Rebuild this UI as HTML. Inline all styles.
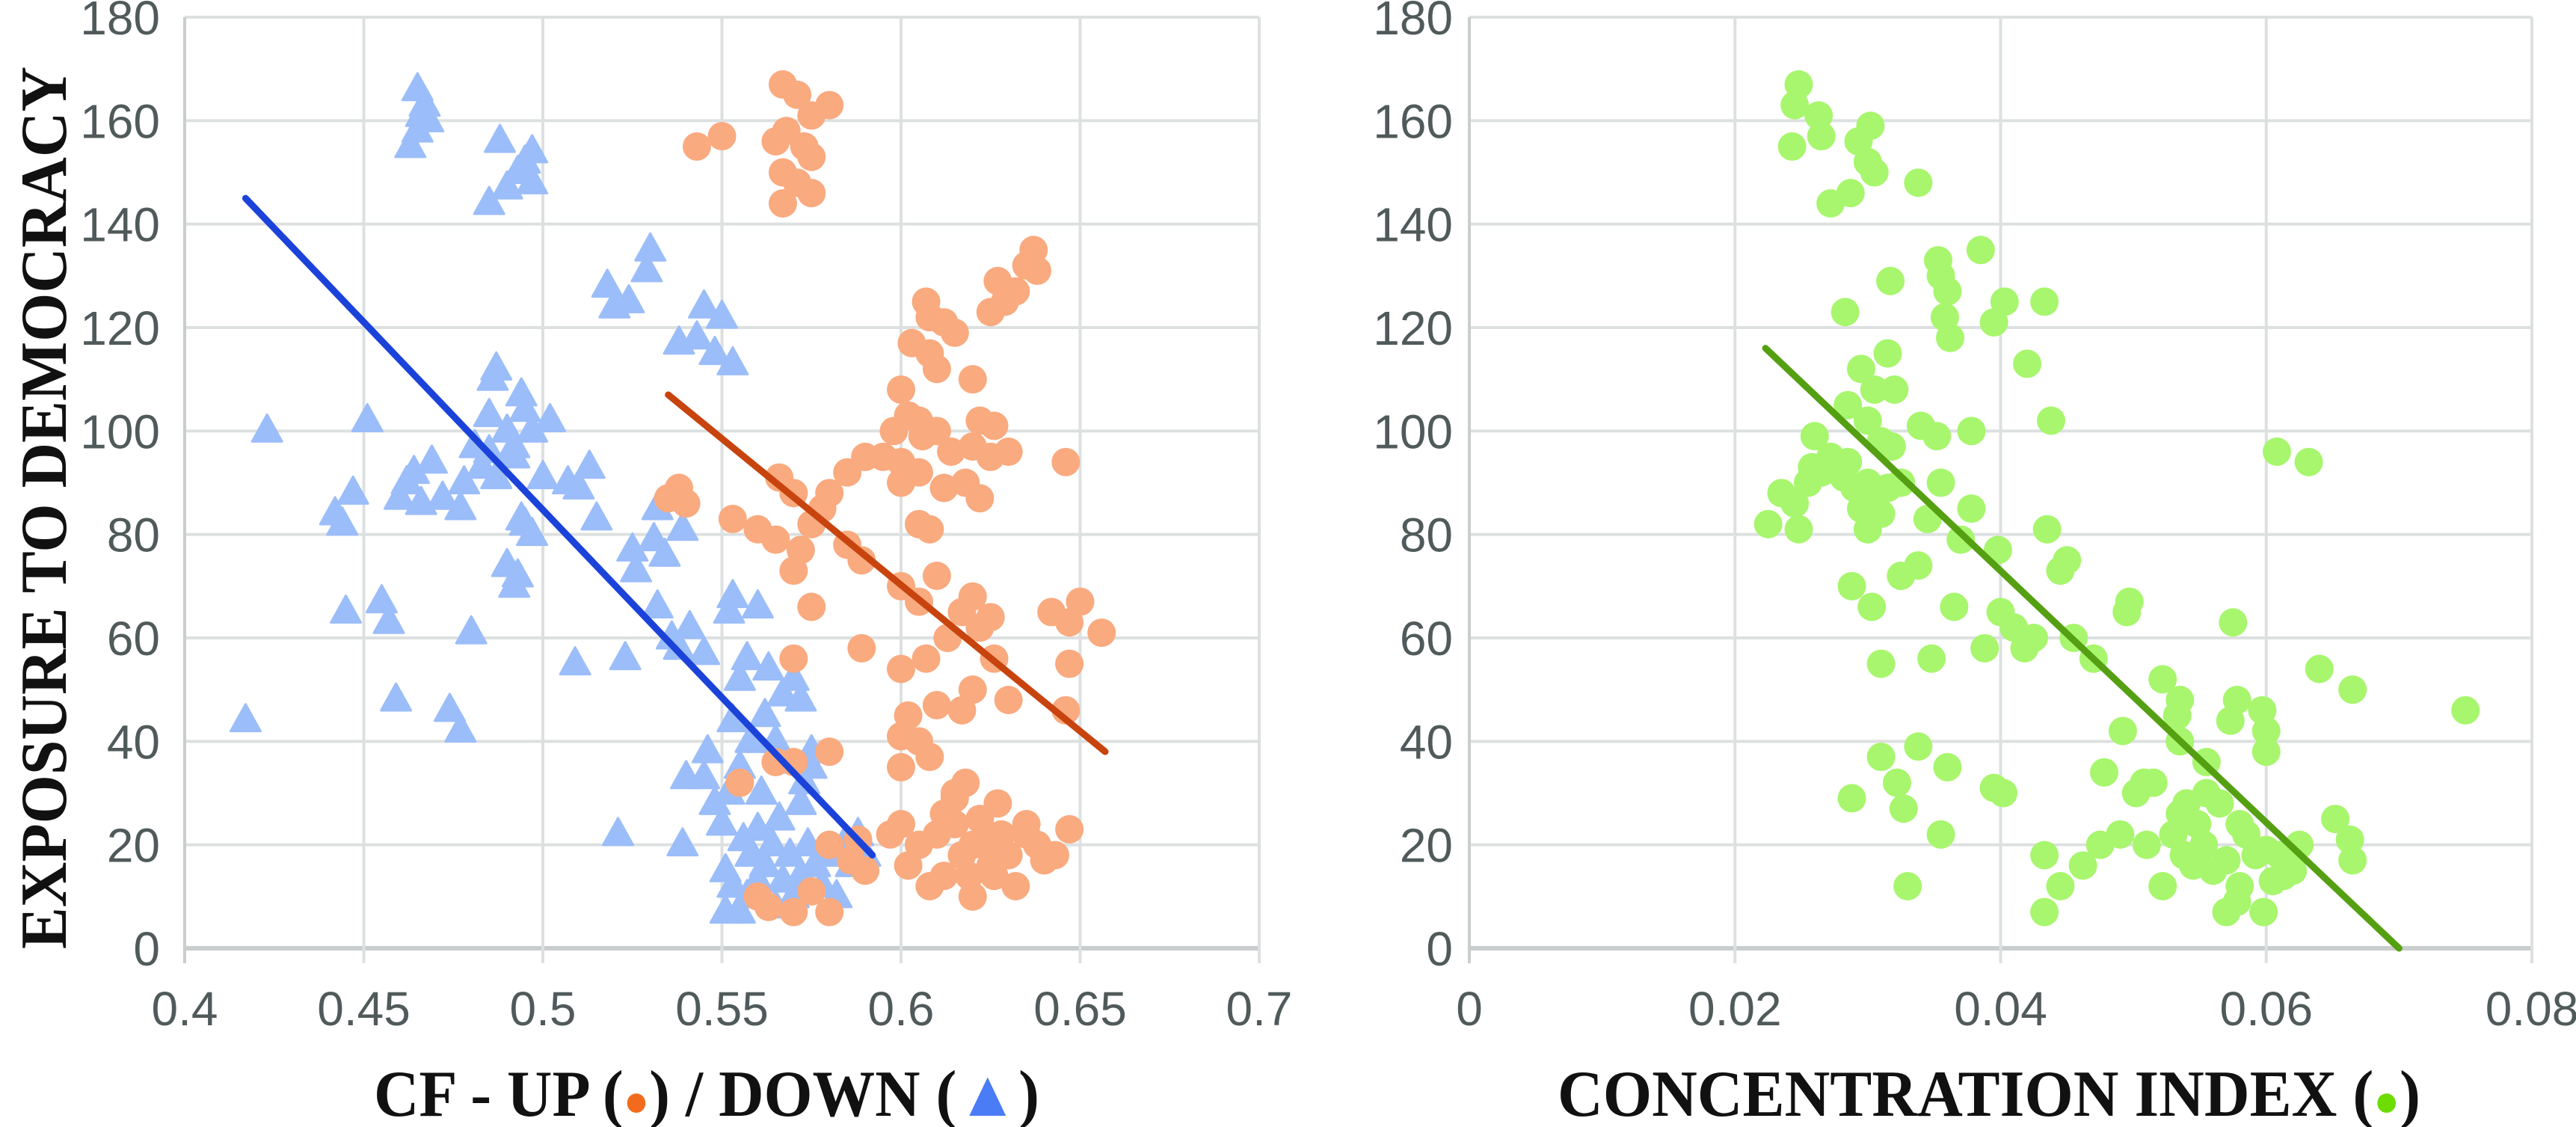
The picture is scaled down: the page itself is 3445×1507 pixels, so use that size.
<!DOCTYPE html>
<html><head><meta charset="utf-8"><style>html,body{margin:0;padding:0;background:#fff}svg{display:block}</style></head>
<body>
<svg id="chart" width="3445" height="1507" viewBox="0 0 3445 1507" xmlns="http://www.w3.org/2000/svg">
<g id="grid"></g>
<g id="marks"></g>
<g id="labels" font-family="Liberation Sans, sans-serif" font-size="64" fill="#505a5a"></g>
<text transform="translate(88,679) rotate(-90)" text-anchor="middle" font-family="Liberation Serif, serif" font-weight="bold" font-size="88" textLength="1180" lengthAdjust="spacingAndGlyphs" fill="#111">EXPOSURE TO DEMOCRACY</text>
<text x="945" y="1492" text-anchor="middle" font-family="Liberation Serif, serif" font-weight="bold" font-size="88" textLength="890" lengthAdjust="spacingAndGlyphs" fill="#111">CF - UP (<tspan fill="#f26b1d" font-size="60">●</tspan>) / DOWN (<tspan fill="#4a7cf5">▲</tspan>)</text>
<text x="2660" y="1492" text-anchor="middle" font-family="Liberation Serif, serif" font-weight="bold" font-size="88" textLength="1154" lengthAdjust="spacingAndGlyphs" fill="#111">CONCENTRATION INDEX (<tspan fill="#6ddc00" font-size="60">●</tspan>)</text>
</svg>
<script>
const yTicks=[0,20,40,60,80,100,120,140,160,180];
const leftXTicks=[0.4,0.45,0.5,0.55,0.6,0.65,0.7];
const leftXTickLabels=["0.4","0.45","0.5","0.55","0.6","0.65","0.7"];
const rightXTicks=[0,0.02,0.04,0.06,0.08];
const rightXTickLabels=["0","0.02","0.04","0.06","0.08"];
const downX=[0.463,0.465,0.466,0.467,0.465,0.468,0.488,0.485,0.49,0.493,0.495,0.497,0.497,0.53,0.529,0.518,0.52,0.524,0.545,0.55,0.543,0.548,0.553,0.538,0.423,0.451,0.447,0.442,0.444,0.445,0.455,0.457,0.459,0.417,0.474,0.477,0.48,0.462,0.464,0.46,0.466,0.469,0.472,0.477,0.478,0.481,0.483,0.485,0.485,0.486,0.487,0.487,0.49,0.492,0.494,0.495,0.492,0.497,0.5,0.502,0.507,0.51,0.513,0.495,0.497,0.494,0.49,0.492,0.493,0.515,0.509,0.523,0.521,0.525,0.526,0.531,0.532,0.534,0.532,0.536,0.538,0.539,0.541,0.545,0.552,0.553,0.56,0.557,0.555,0.563,0.567,0.57,0.572,0.575,0.575,0.562,0.565,0.558,0.553,0.546,0.545,0.54,0.539,0.548,0.55,0.552,0.555,0.556,0.558,0.56,0.562,0.564,0.566,0.567,0.569,0.57,0.572,0.574,0.576,0.578,0.58,0.582,0.584,0.586,0.588,0.59,0.551,0.555,0.553,0.557,0.56,0.565,0.573,0.561,0.551,0.568,0.572];
const downY=[155,158,161,163,166,160,156,144,147,150,152,154,148,135,131,128,124,125,124,122,118,115,113,117,100,102,88,84,82,65,67,63,48,44,46,42,61,90,92,87,86,94,87,85,90,97,93,96,103,110,112,91,100,97,107,104,95,100,91,102,90,89,93,82,80,83,74,70,72,83,55,56,22,77,73,79,85,76,66,60,58,81,62,57,65,68,66,56,52,54,49,52,48,38,35,45,40,40,44,38,33,33,20,28,24,30,35,21,18,23,16,20,25,13,18,10,14,20,16,12,18,10,20,16,22,18,7,7,12,10,13,8,32,30,15,36,28];
const upX=[0.567,0.571,0.58,0.575,0.573,0.565,0.568,0.575,0.567,0.571,0.575,0.567,0.55,0.543,0.637,0.635,0.638,0.632,0.627,0.625,0.629,0.607,0.608,0.612,0.603,0.615,0.608,0.61,0.62,0.6,0.605,0.602,0.598,0.606,0.61,0.614,0.622,0.626,0.62,0.625,0.63,0.6,0.595,0.59,0.585,0.6,0.605,0.612,0.618,0.622,0.646,0.535,0.538,0.54,0.566,0.57,0.58,0.575,0.578,0.553,0.56,0.565,0.572,0.57,0.585,0.589,0.575,0.605,0.608,0.61,0.6,0.605,0.62,0.625,0.617,0.622,0.613,0.642,0.65,0.656,0.647,0.589,0.607,0.626,0.647,0.57,0.6,0.62,0.63,0.617,0.646,0.602,0.61,0.6,0.605,0.6,0.608,0.565,0.57,0.58,0.6,0.605,0.61,0.612,0.615,0.617,0.618,0.619,0.62,0.622,0.624,0.625,0.627,0.628,0.63,0.632,0.635,0.638,0.64,0.643,0.647,0.602,0.608,0.612,0.615,0.62,0.635,0.626,0.59,0.586,0.58,0.597,0.555,0.56,0.563,0.57,0.575,0.58,0.588,0.615];
const upY=[167,165,163,161,155,156,158,153,150,148,146,144,157,155,135,132,131,127,129,123,125,125,122,121,117,119,115,112,110,108,102,103,100,99,100,96,102,101,97,95,96,94,95,95,92,90,92,89,90,87,94,87,89,86,91,88,88,82,85,83,81,79,77,73,78,75,66,82,81,72,70,67,68,64,65,62,60,65,67,61,63,58,56,56,55,56,54,50,48,46,46,45,47,41,40,35,37,36,36,38,24,20,22,26,30,18,32,14,10,25,20,16,28,22,18,12,22,20,17,18,23,16,12,14,24,20,24,14,15,17,20,22,32,10,8,7,11,7,21,29];
const ciX=[0.0248,0.0245,0.0263,0.0265,0.0243,0.0302,0.0293,0.03,0.0305,0.0287,0.0272,0.0338,0.0353,0.0355,0.0385,0.036,0.0317,0.0403,0.0433,0.0362,0.0358,0.0395,0.042,0.0283,0.0315,0.0295,0.0305,0.032,0.0285,0.03,0.031,0.026,0.0318,0.0438,0.034,0.0352,0.0378,0.0225,0.0235,0.0245,0.0255,0.0258,0.0265,0.0272,0.0282,0.0285,0.029,0.0295,0.03,0.0305,0.031,0.03,0.0248,0.0315,0.0325,0.0345,0.0355,0.037,0.0378,0.0398,0.0435,0.0445,0.045,0.0325,0.0338,0.0288,0.0303,0.0365,0.04,0.041,0.0418,0.0425,0.0388,0.0348,0.031,0.0455,0.047,0.0495,0.0497,0.0575,0.0608,0.0632,0.064,0.0665,0.075,0.0522,0.0535,0.0533,0.0492,0.0535,0.0555,0.0578,0.0573,0.0597,0.06,0.06,0.031,0.0338,0.0322,0.0288,0.0327,0.036,0.0355,0.033,0.0395,0.0402,0.0478,0.0433,0.0445,0.0433,0.0462,0.0475,0.049,0.0502,0.0508,0.0515,0.051,0.0522,0.053,0.0535,0.0538,0.054,0.0545,0.0548,0.0553,0.056,0.0565,0.057,0.057,0.0578,0.058,0.0585,0.0592,0.0598,0.06,0.0605,0.061,0.0613,0.062,0.0625,0.0652,0.0663,0.0665,0.058,0.0555];
const ciY=[167,163,161,157,155,159,156,152,150,146,144,148,133,130,135,127,129,125,125,118,122,121,113,123,115,112,108,108,105,102,98,99,97,102,101,99,100,82,88,86,90,93,92,95,91,94,89,85,90,87,84,81,81,89,90,83,90,79,85,77,81,73,75,72,74,70,66,66,65,62,58,60,58,56,55,60,56,65,67,63,96,94,54,50,46,52,48,45,42,40,36,48,44,46,42,38,37,39,32,29,27,35,22,12,31,30,34,18,12,7,16,20,22,30,32,32,20,12,22,26,18,28,16,24,20,15,28,17,7,9,12,22,18,7,19,13,18,14,15,20,25,21,17,24,30];
const downTrend=[[0.417,145],[0.592,18]];
const upTrend=[[0.535,107],[0.657,38]];
const ciTrend=[[0.0223,116],[0.0700,0]];

const NS='http://www.w3.org/2000/svg';
const yTop=23,yBot=1268;
const yS=v=>yBot-(v-0)/180*(yBot-yTop);
const lx=v=>247+(v-0.4)/0.3*(1684-247);
const rx=v=>1965+(v/0.08)*(3386-1965);
function mk(t,a,p){const e=document.createElementNS(NS,t);for(const k in a)e.setAttribute(k,a[k]);p.appendChild(e);return e;}
const grid=document.getElementById('grid'),marks=document.getElementById('marks'),labels=document.getElementById('labels');
function axes(xs,ticks,tlabels,x0,x1,labX,side){
  yTicks.forEach(t=>{const l=mk('line',{x1:x0,x2:x1,y1:yS(t),y2:yS(t),stroke:t===0?'#c9cdcd':'#dde0e0','stroke-width':t===0?6:4},grid);
    
    const tx=mk('text',{x:labX,y:yS(t)+23,'text-anchor':'end'},labels);tx.textContent=String(t);
    });
  ticks.forEach((t,i)=>{const l=mk('line',{x1:xs(t),x2:xs(t),y1:yTop,y2:yBot+20,stroke:i===0?'#c9cdcd':'#dde0e0','stroke-width':4},grid);
    
    const tx=mk('text',{x:xs(t),y:1371,'text-anchor':'middle'},labels);tx.textContent=tlabels[i];
    });
}
axes(lx,leftXTicks,leftXTickLabels,247,1684,214,'left');
axes(rx,rightXTicks,rightXTickLabels,1965,3386,1943,'right');
downX.forEach((v,i)=>{const x=lx(v),y=yS(downY[i]);
  const p=mk('polygon',{points:`${x},${y-22} ${x-20},${y+14} ${x+20},${y+14}`,fill:'#9bbdf9','stroke':'#9bbdf9','stroke-width':3,'stroke-linejoin':'round'},marks);
  });
upX.forEach((v,i)=>{const c=mk('circle',{cx:lx(v),cy:yS(upY[i]),r:19,fill:'#f9aa7f'},marks);
  });
ciX.forEach((v,i)=>{const c=mk('circle',{cx:rx(v),cy:yS(ciY[i]),r:19,fill:'#a7f66d'},marks);
  });
function trend(t,xs,col,name){const l=mk('line',{x1:xs(t[0][0]),y1:yS(t[0][1]),x2:xs(t[1][0]),y2:yS(t[1][1]),stroke:col,'stroke-width':9,'stroke-linecap':'round'},marks);
  }
trend(downTrend,lx,'#1b43d9','down-trendline');
trend(upTrend,lx,'#c8440e','up-trendline');
trend(ciTrend,rx,'#55a012','ci-trendline');
</script>
</body></html>
